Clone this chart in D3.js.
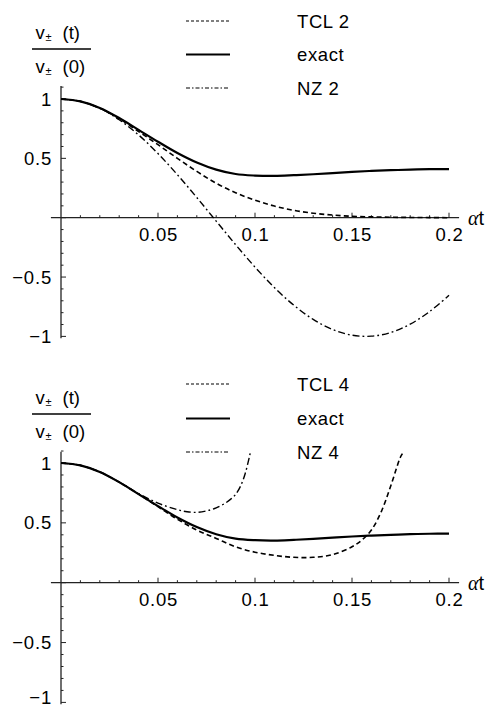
<!DOCTYPE html>
<html>
<head>
<meta charset="utf-8">
<script src="https://cdn.jsdelivr.net/npm/d3@7"></script>
<style>
  html, body { margin: 0; padding: 0; background: #fff; }
  svg { display: block; }
  text { font-family: "Liberation Sans", Arial, Helvetica, sans-serif; fill: #000; }
</style>
</head>
<body>
<svg id="chart" width="494" height="709"></svg>
<script>
// ---------- data ----------
const tGrid = [0,0.01,0.02,0.03,0.04,0.05,0.06,0.07,0.08,0.09,0.10,0.11,0.12,0.13,0.14,0.15,0.16,0.17,0.18,0.19,0.20];
const exactVals = [1,0.98,0.925,0.84,0.74,0.64,0.545,0.465,0.405,0.368,0.355,0.352,0.358,0.366,0.376,0.386,0.394,0.40,0.405,0.409,0.41];
const tcl2Vals  = [1,0.98,0.923,0.835,0.726,0.615,0.50,0.39,0.29,0.21,0.148,0.098,0.062,0.038,0.022,0.012,0.007,0.004,0.002,0.001,0.0];
const nz2Vals   = [1,0.980,0.921,0.825,0.697,0.540,0.362,0.170,-0.029,-0.227,-0.416,-0.589,-0.737,-0.857,-0.942,-0.990,-0.998,-0.967,-0.897,-0.791,-0.654];

const tcl4T    = [0,0.01,0.02,0.03,0.04,0.05,0.06,0.07,0.08,0.09,0.10,0.11,0.12,0.13,0.14,0.15,0.155,0.16,0.165,0.17,0.175,0.1765];
const tcl4Vals = [1,0.98,0.925,0.84,0.74,0.635,0.53,0.44,0.37,0.30,0.255,0.228,0.212,0.212,0.235,0.30,0.355,0.44,0.59,0.81,1.05,1.09];
const nz4T     = [0,0.01,0.02,0.03,0.04,0.05,0.06,0.065,0.07,0.075,0.08,0.085,0.0875,0.09,0.0925,0.095,0.0975];
const nz4Vals  = [1,0.98,0.925,0.84,0.745,0.665,0.61,0.593,0.588,0.60,0.625,0.668,0.698,0.738,0.805,0.915,1.08];

const xMajorTicks = [0.05,0.1,0.15,0.2];
const xTickLabels = ["0.05","0.1","0.15","0.2"];
const yMajorTicks = [1,0.5,-0.5,-1];
const yTickLabels = ["1","0.5","\u22120.5","\u22121"];
const xMinorTicks = d3.range(1,21).map(i => i/100);
const yMinorTicks = d3.range(-10,12).map(i => i/10);

const legendTop = ["TCL 2","exact","NZ 2"];
const legendBottom = ["TCL 4","exact","NZ 4"];

// ---------- styles ----------
const styles = {
  tcl:   {w: 1.6, dash: "5,3.2"},
  exact: {w: 2.2, dash: null},
  nz:    {w: 1.4, dash: "7,3,1.8,3"}
};
const legendStyles = {
  tcl:   {w: 1.2, dash: "3,2"},
  exact: {w: 2.0, dash: null},
  nz:    {w: 1.1, dash: "4,2,1.5,2"}
};

const svg = d3.select("#chart");
const x = d3.scaleLinear().domain([0,0.2]).range([61,449]);

function panel(cfg) {
  const y = d3.scaleLinear().domain([0,1]).range([cfg.y0, cfg.y1]);
  const g = svg.append("g");
  const axisColor = "#222";

  // x axis
  g.append("line").attr("x1", x(-0.0052)).attr("x2", x(0.2052))
    .attr("y1", y(0)).attr("y2", y(0)).attr("stroke", axisColor).attr("stroke-width", 1.3);
  g.selectAll(".xmin").data(xMinorTicks).enter().append("line")
    .attr("x1", d => x(d)).attr("x2", d => x(d))
    .attr("y1", y(0)).attr("y2", d => y(0) - (Math.abs(d*20 - Math.round(d*20)) < 1e-6 ? 5 : 2.5))
    .attr("stroke", axisColor).attr("stroke-width", 1);
  g.selectAll(".xlab").data(xMajorTicks).enter().append("text")
    .attr("x", d => x(d) + 0.5).attr("y", y(0) + 23.5)
    .attr("text-anchor", "middle").attr("font-size", 18.5).attr("letter-spacing", 0.8)
    .text((d,i) => xTickLabels[i]);
  const at = g.append("text").attr("x", 468).attr("y", y(0) + 7.5).attr("font-size", 20);
  at.append("tspan").attr("font-family", "Liberation Serif, Times New Roman, serif").attr("font-style", "italic").text("\u03B1");
  at.append("tspan").text("t");

  // y axis
  g.append("line").attr("x1", x(0)).attr("x2", x(0))
    .attr("y1", y(cfg.yTop)).attr("y2", y(-1.015)).attr("stroke", axisColor).attr("stroke-width", 1.3);
  g.selectAll(".ymin").data(yMinorTicks).enter().append("line")
    .attr("x1", x(0)).attr("x2", d => x(0) + (Math.abs(d*2 - Math.round(d*2)) < 1e-6 ? 5 : 2.5))
    .attr("y1", d => y(d)).attr("y2", d => y(d))
    .attr("stroke", axisColor).attr("stroke-width", 1);
  g.selectAll(".ylab").data(yMajorTicks).enter().append("text")
    .attr("x", 52).attr("y", d => Math.min(y(d) + 6.5, 704))
    .attr("text-anchor", "end").attr("font-size", 18.5).attr("letter-spacing", 0.8)
    .text((d,i) => yTickLabels[i]);

  // y label fraction
  const fy = cfg.fracLine;
  [[fy - 10.5, "(t)"], [fy + 23.5, "(0)"]].forEach(([by, arg]) => {
    g.append("text").attr("x", 35.5).attr("y", by).attr("font-size", 18.5).text("v");
    g.append("text").attr("x", 45.5).attr("y", by + 2.5).attr("font-size", 11).text("\u00B1");
    g.append("text").attr("x", 62.5).attr("y", by).attr("font-size", 18.5).text(arg);
  });
  g.append("line").attr("x1", 32).attr("x2", 91).attr("y1", fy).attr("y2", fy)
    .attr("stroke", "#000").attr("stroke-width", 1.3);

  // curves
  const line = d3.line().x(d => x(d[0])).y(d => y(d[1])).curve(d3.curveCatmullRom.alpha(0.5));
  cfg.series.forEach(s => {
    const st = styles[s.style];
    g.append("path").datum(s.t.map((t,i) => [t, s.v[i]]))
      .attr("d", line).attr("fill", "none").attr("stroke", "#000")
      .attr("stroke-width", st.w).attr("stroke-dasharray", st.dash)
      .attr("stroke-linejoin", "round");
  });

  // legend
  cfg.legend.forEach((lab, i) => {
    const ly = cfg.legY[i];
    const st = legendStyles[["tcl","exact","nz"][i]];
    g.append("line").attr("x1", 186).attr("x2", 230).attr("y1", ly).attr("y2", ly)
      .attr("stroke", "#000").attr("stroke-width", st.w).attr("stroke-dasharray", st.dash);
    g.append("text").attr("x", 297).attr("y", ly + 6.6).attr("font-size", 18.5).attr("letter-spacing", 0.6).text(lab);
  });
}

panel({
  y0: 217.7, y1: 99, yTop: 1.11, fracLine: 49,
  legend: legendTop, legY: [21, 54.5, 88],
  series: [
    {t: tGrid, v: tcl2Vals, style: "tcl"},
    {t: tGrid, v: nz2Vals, style: "nz"},
    {t: tGrid, v: exactVals, style: "exact"}
  ]
});
panel({
  y0: 582.7, y1: 463, yTop: 1.095, fracLine: 414,
  legend: legendBottom, legY: [384, 418.5, 452],
  series: [
    {t: tcl4T, v: tcl4Vals, style: "tcl"},
    {t: nz4T, v: nz4Vals, style: "nz"},
    {t: tGrid, v: exactVals, style: "exact"}
  ]
});
</script>
</body>
</html>
